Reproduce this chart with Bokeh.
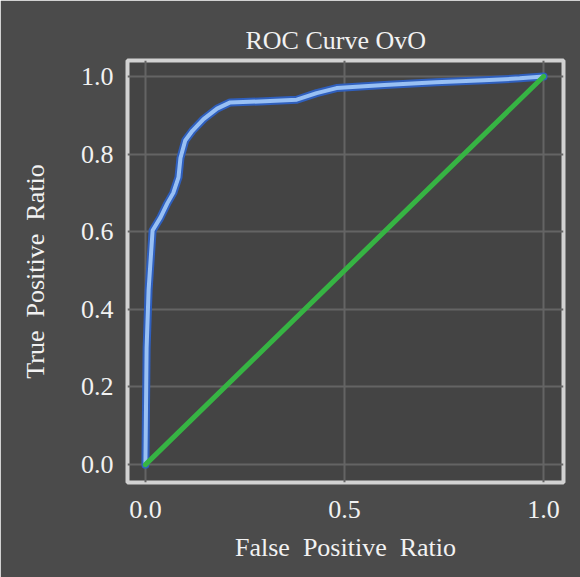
from bokeh.plotting import figure
from bokeh.embed import file_html
from bokeh.resources import INLINE
from bokeh.models import Range1d, FixedTicker, Title, PrintfTickFormatter

# ROC curve
fpr = [0.0, 0.003, 0.008, 0.018, 0.038, 0.055, 0.070, 0.083, 0.088, 0.100, 0.118,
       0.146, 0.180, 0.213, 0.300, 0.380, 0.430, 0.480, 0.600, 0.730, 0.850, 0.940, 1.0]
tpr = [0.0, 0.30, 0.45, 0.603, 0.637, 0.673, 0.700, 0.740, 0.790, 0.835, 0.860,
       0.890, 0.917, 0.933, 0.936, 0.940, 0.957, 0.970, 0.978, 0.985, 0.990, 0.995, 1.0]
diag_x = [0.0, 1.0]
diag_y = [0.0, 1.0]
x_ticks = [0.0, 0.5, 1.0]
y_ticks = [0.0, 0.2, 0.4, 0.6, 0.8, 1.0]

FONT = "Liberation Serif"
TXT = "#f2f2f2"
SP = "\u00a0 "

p = figure(width=580, height=577, output_backend="svg", toolbar_location=None,
           x_range=Range1d(-0.045, 1.05), y_range=Range1d(-0.046, 1.041),
           min_border_left=127, min_border_right=17, min_border_top=60,
           min_border_bottom=95)
p.title = Title(text="ROC Curve OvO", align="left", offset=118,
                vertical_align="middle",
                text_font=FONT, text_font_size="26px", text_font_style="normal",
                text_color=TXT)
p.border_fill_color = "#4b4b4b"
p.background_fill_color = "#444444"
p.outline_line_color = "#d2d2d2"
p.outline_line_width = 4

p.xaxis.ticker = FixedTicker(ticks=x_ticks)
p.yaxis.ticker = FixedTicker(ticks=y_ticks)
for ax in (p.xaxis[0], p.yaxis[0]):
    ax.formatter = PrintfTickFormatter(format="%.1f")
    ax.axis_line_color = None
    ax.major_tick_line_color = None
    ax.minor_tick_line_color = None
    ax.major_tick_out = 0
    ax.major_tick_in = 0
    ax.major_label_text_font = FONT
    ax.major_label_text_font_size = "26px"
    ax.major_label_text_color = TXT
    ax.axis_label_text_font = FONT
    ax.axis_label_text_font_size = "26px"
    ax.axis_label_text_font_style = "normal"
    ax.axis_label_text_color = TXT
p.xaxis.major_label_standoff = 18
p.yaxis.major_label_standoff = 14
p.xaxis.axis_label_standoff = 12
p.yaxis.axis_label_standoff = 28
p.xaxis.axis_label = "False" + SP + "Positive" + SP + "Ratio"
p.yaxis.axis_label = "True" + SP + "Positive" + SP + "Ratio"

p.grid.grid_line_color = "#646464"
p.grid.grid_line_width = 2

p.line(fpr, tpr, line_color="#2f5fbd", line_width=8, line_join="round", line_cap="round")
p.line(fpr, tpr, line_color="#98c0f4", line_width=4, line_join="round", line_cap="round")
p.line(diag_x, diag_y, line_color="#36b443", line_width=5, line_cap="round")

open("out.html", "w").write(file_html(p, INLINE))
